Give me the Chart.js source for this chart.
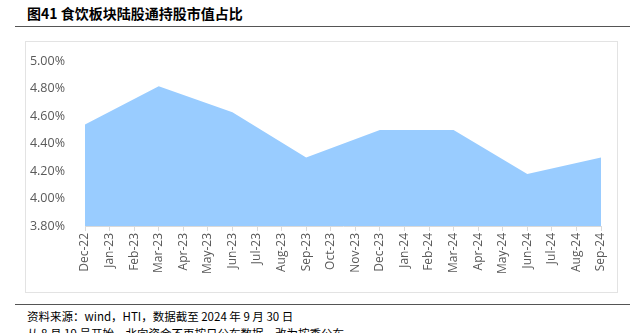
<!DOCTYPE html>
<html><head><meta charset="utf-8">
<script src="https://cdn.jsdelivr.net/npm/chart.js@4/dist/chart.umd.min.js"></script>
<style>
html,body{margin:0;padding:0;background:#fff;width:644px;height:333px;overflow:hidden;position:relative;font-family:"Noto Sans CJK SC","Open Sans",sans-serif;}
#title{position:absolute;left:27px;top:3px;font-size:14px;font-weight:bold;color:#000;white-space:nowrap;}
#rule1{position:absolute;left:15px;top:26px;width:615px;height:0;border-top:1.5px solid #555;}
#box{position:absolute;left:25px;top:41px;width:593px;height:252px;border:1px solid #e3e3e3;box-sizing:border-box;}
#wrap{position:absolute;left:26px;top:42px;width:592px;height:250px;}
#rule2{position:absolute;left:15px;top:304px;width:615px;height:0;border-top:1.5px solid #555;}
.src{position:absolute;left:27px;font-size:11.5px;color:#000;white-space:nowrap;}
</style></head>
<body>
<div id="title">图41 食饮板块陆股通持股市值占比</div>
<div id="rule1"></div>
<div id="box"></div>
<div id="wrap"><canvas id="c" width="592" height="250"></canvas></div>
<div id="rule2"></div>
<div class="src" style="top:308px">资料来源：wind，HTI，数据截至 2024 年 9 月 30 日</div>
<div class="src" style="top:325px">从 8 月 19 号开始，北向资金不再按日公布数据，改为按季公布</div>
<script>
const categories = ["Dec-22","Jan-23","Feb-23","Mar-23","Apr-23","May-23","Jun-23","Jul-23","Aug-23","Sep-23","Oct-23","Nov-23","Dec-23","Jan-24","Feb-24","Mar-24","Apr-24","May-24","Jun-24","Jul-24","Aug-24","Sep-24"];
const shareValues = [4.54,null,null,4.82,null,null,4.63,null,null,4.30,null,null,4.50,null,null,4.50,null,null,4.18,null,null,4.30];
const yTicks = [3.8,4.0,4.2,4.4,4.6,4.8,5.0];

new Chart(document.getElementById('c'), {
  type: 'line',
  data: {
    labels: categories,
    datasets: [{
      data: shareValues,
      spanGaps: true,
      fill: 'start',
      backgroundColor: 'rgb(153,204,255)',
      borderWidth: 0,
      borderColor: 'rgba(0,0,0,0)',
      pointRadius: 0,
      tension: 0
    }]
  },
  options: {
    responsive: false,
    animation: false,
    layout: { padding: { top: 14, right: 17, left: 0, bottom: 0 } },
    plugins: { legend: { display: false }, tooltip: { enabled: false } },
    scales: {
      x: {
        offset: false,
        grid: { display: true, drawOnChartArea: false, color: '#d9d9d9', tickLength: 5 },
        border: { display: true, color: '#d9d9d9' },
        ticks: { autoSkip: false, maxRotation: 90, minRotation: 90, color: '#595959', font: { family: 'Open Sans', size: 12 }, padding: 2 },
        afterFit: s => { s.height = 66; }
      },
      y: {
        min: 3.8, max: 5.0,
        afterBuildTicks: s => { s.ticks = yTicks.map(v => ({ value: v })); },
        grid: { display: false },
        border: { display: false },
        ticks: { color: '#595959', font: { family: 'Open Sans', size: 12.5 }, padding: 12, callback: v => v.toFixed(2) + '%' },
        afterFit: s => { s.width = 59; }
      }
    }
  }
});
</script>
</body></html>
